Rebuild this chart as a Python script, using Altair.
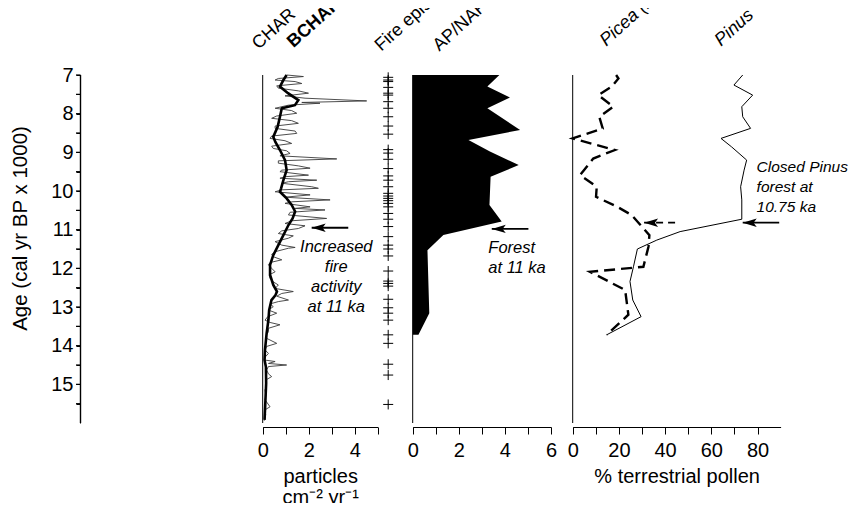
import altair as alt
import pandas as pd

# ---------------- data ----------------
char_age = [7.00, 7.04, 7.09, 7.13, 7.17, 7.22, 7.28, 7.34, 7.41, 7.47, 7.54, 7.60, 7.67, 7.71, 7.73,
            7.78, 7.86, 7.92, 7.99, 8.06, 8.12, 8.18, 8.25, 8.32, 8.38, 8.45, 8.51, 8.58, 8.64, 8.70,
            8.77, 8.84, 8.90, 8.96, 9.03, 9.09, 9.17, 9.22, 9.28, 9.35, 9.41, 9.46, 9.50, 9.59, 9.63,
            9.67, 9.72, 9.76, 9.80, 9.89, 9.93, 9.97, 10.02, 10.10, 10.16, 10.23, 10.28, 10.32, 10.41,
            10.45, 10.49, 10.55, 10.62, 10.71, 10.77, 10.84, 10.90, 10.97, 11.03, 11.10, 11.16, 11.22,
            11.31, 11.40, 11.46, 11.48, 11.57, 11.64, 11.70, 11.78, 11.85, 11.91, 12.00, 12.09, 12.17,
            12.26, 12.35, 12.43, 12.52, 12.60, 12.65, 12.72, 12.82, 12.86, 12.92, 12.99, 13.08, 13.16,
            13.25, 13.34, 13.40, 13.46, 13.55, 13.64, 13.72, 13.81, 13.94, 14.02, 14.11, 14.20, 14.28,
            14.37, 14.41, 14.46, 14.50, 14.54, 14.63, 14.73, 14.80, 14.89, 15.02, 15.15, 15.28, 15.40,
            15.58, 15.66, 15.79, 15.94]
char_val = [1.04, 1.77, 0.68, 0.54, 1.41, 1.70, 0.61, 0.68, 1.55, 1.99, 0.97, 1.84, 4.52, 1.70, 2.49,
            1.12, 0.54, 1.26, 1.48, 0.61, 0.39, 1.26, 1.55, 0.54, 0.54, 1.41, 1.48, 0.39, 0.32, 0.97,
            1.26, 0.39, 0.46, 1.04, 1.19, 0.75, 3.22, 0.68, 0.68, 1.55, 2.06, 0.83, 0.75, 1.99, 0.97,
            0.75, 2.35, 1.12, 0.83, 2.13, 2.42, 0.83, 0.54, 2.06, 0.97, 2.93, 1.26, 0.97, 2.06,
            1.41, 2.71, 1.19, 1.12, 2.78, 1.26, 0.97, 1.84, 1.55, 0.83, 0.68, 1.33, 1.12,
            0.54, 0.83, 1.41, 1.12, 0.54, 0.39, 0.46, 0.83, 0.32, 0.25, 0.39, 0.54, 0.28,
            0.32, 0.46, 0.68, 0.54, 1.33, 0.83, 0.61, 1.12, 0.68, 0.32, 0.46, 0.25, 0.61,
            0.22, 0.10, 0.32, 0.75, 0.25, 0.25, 0.17, 0.17, 0.61, 0.17, 0.10, 0.25, 0.13,
            0.07, 0.54, 0.25, 1.04, 0.25, 0.17, 0.25, 0.39, 0.13, 0.17, 0.10, 0.14, 0.10,
            0.32, 0.10, 0.13, 0.07]

bchar_age = [7.00, 7.13, 7.30, 7.47, 7.65, 7.78, 7.86, 8.08, 8.34, 8.60, 8.73, 8.94, 9.20, 9.46,
             9.72, 9.93, 10.02, 10.19, 10.36, 10.53, 10.71, 10.88, 11.14, 11.40, 11.66, 11.91,
             12.17, 12.43, 12.60, 12.70, 12.82, 13.08, 13.33, 13.68, 14.11, 14.37, 14.55, 14.97,
             15.40, 15.92]
bchar_val = [1.04, 0.90, 0.75, 1.10, 1.55, 1.40, 0.83, 0.75, 0.65, 0.46, 0.55, 0.75, 0.97, 1.04,
             0.90, 0.80, 0.75, 1.04, 1.26, 1.41, 1.30, 1.12, 0.90, 0.68, 0.46, 0.32,
             0.32, 0.46, 0.62, 0.55, 0.38, 0.28, 0.25, 0.17, 0.10, 0.08, 0.14, 0.15,
             0.12, 0.08]

fire_age = [7.06, 7.13, 7.17, 7.32, 7.47, 7.52, 7.69, 7.86, 8.08, 8.32, 8.53, 8.93, 9.02, 9.18,
            9.42, 9.61, 9.72, 9.89, 10.06, 10.13, 10.19, 10.25, 10.32, 10.41, 10.58, 10.73,
            10.92, 11.18, 11.40, 11.50, 11.68, 12.07, 12.33, 12.39, 12.46, 12.80, 13.02, 13.16,
            13.34, 13.72, 13.94, 14.48, 14.76, 15.52]

ap_age = [7.00, 7.30, 7.58, 7.86, 8.42, 8.68, 8.98, 9.33, 9.63, 10.36, 10.79, 11.14, 11.53,
          13.16, 13.72]
ap_val = [3.76, 3.24, 4.22, 3.24, 4.66, 2.42, 3.35, 4.60, 3.38, 3.33, 3.86, 1.33, 0.64,
          0.72, 0.25]

picea_age = [7.00, 7.09, 7.30, 7.52, 7.82, 8.08, 8.38, 8.64, 8.94, 9.16, 9.59, 9.89, 10.15,
             10.40, 10.62, 11.14, 11.44, 11.96, 12.09, 12.56, 13.20, 13.72]
picea_val = [18.8, 19.8, 16.9, 11.1, 17.6, 11.5, 13.0, 0.0, 18.3, 8.9, 3.2, 10.4, 10.1,
             19.0, 25.5, 33.2, 32.8, 30.6, 7.5, 22.7, 24.1, 14.7]

pinus_age = [7.00, 7.26, 7.52, 7.82, 8.08, 8.38, 8.64, 8.86, 9.20, 9.46, 9.89, 10.23, 10.73,
             11.05, 11.27, 11.50, 11.96, 12.34, 12.82, 13.25, 13.72]
pinus_val = [73.6, 69.8, 77.9, 73.2, 73.6, 77.0, 64.2, 68.8, 75.3, 74.2, 72.7, 73.2, 73.2,
             46.5, 36.4, 28.0, 26.3, 24.8, 26.0, 29.6, 14.7]

# annotations (in data units)
char_arrow = {"age": [10.95], "tip": [2.13], "tail": [3.72]}
ap_arrow = {"age": [10.98], "tip": [3.43], "tail": [5.02]}
picea_arrow = {"age": [10.82], "tip": [30.9], "tail": [46.0]}
pinus_arrow = {"age": [10.82], "tip": [73.6], "tail": [89.4]}

char_note = {"age": [11.59], "x": [3.2], "text": ["Increased\nfire\nactivity\nat 11 ka"]}
ap_note = {"age": [11.60], "x": [3.28], "text": ["Forest\nat 11 ka"]}
pol_note = {"age": [9.50], "x": [79.6], "text": ["Closed Pinus\nforest at\n10.75 ka"]}

lab_char = {"age": [6.353], "x": [-0.18], "text": ["CHAR"]}
lab_bchar = {"age": [6.309], "x": [1.34], "text": ["BCHAR"]}
lab_fire = {"age": [6.397], "x": [0.10], "text": ["Fire episodes"]}
lab_ap = {"age": [6.397], "x": [1.15], "text": ["AP/NAP"]}
lab_picea = {"age": [6.268], "x": [14.5], "text": ["Picea (2x)"]}
lab_pinus = {"age": [6.268], "x": [64.2], "text": ["Pinus"]}

base_line = {"x0": [0], "y0": [7], "y1": [16]}

y_ticks = [7, 7.5, 8, 8.5, 9, 9.5, 10, 10.5, 11, 11.5, 12, 12.5, 13, 13.5, 14, 14.5, 15, 15.5]
char_ticks = [0, 1, 2, 3, 4, 5]
ap_ticks = [0, 1, 2, 3, 4, 5, 6]
pol_ticks = [0, 10, 20, 30, 40, 50, 60, 70, 80]

# ---------------- layout ----------------
W, H = 701, 348
FONT = "Liberation Sans"
FS = 20
AGE_AXIS_X = -182.2 / 23.0
AGE_TICK_X = -186.7 / 23.0

YS = alt.Scale(domain=[7, 16], reverse=True, nice=False, zero=False)
YAX = alt.Axis(values=y_ticks,
               labelExpr="datum.value % 1 === 0 ? format(datum.value, 'd') : ''",
               title="Age (cal yr BP x 1000)", domain=True, ticks=True,
               domainColor="black", tickColor="black", domainWidth=1, tickWidth=1,
               tickSize=4, labelPadding=3,
               labelFontSize=FS, titleFontSize=20.5, titleFontWeight="normal",
               titleX=-60, titleY=153, titleAngle=270, titleAlign="center",
               titleBaseline="middle", labelColor="black", titleColor="black",
               grid=False, labelFont=FONT, titleFont=FONT)


def xaxis(values, every, title):
    kw = dict(orient="bottom", offset=4, values=values,
              labelExpr="datum.value %% %s === 0 ? datum.label : ''" % every,
              domain=True, ticks=True, domainWidth=1, tickWidth=1,
              tickSize=7, labelFontSize=FS, labelPadding=6, labelFlush=False,
              labelOverlap=False, domainColor="black", tickColor="black",
              labelColor="black", grid=False, labelFont=FONT)
    if title is not None:
        kw.update(title=title, titleFontSize=FS, titleFontWeight="normal",
                  titleBaseline="alphabetic", titleY=55, titleLineHeight=21,
                  titleColor="black", titleFont=FONT)
    else:
        kw.update(title=None)
    return alt.Axis(**kw)


def Y(field):
    return alt.Y(field, type="quantitative", scale=YS, axis=YAX)


ARROW = "M-1,0L1,-0.6L0.55,0L1,0.6Z"
PLUS = "M-1,0L1,0M0,-1L0,1"


def make_panel(sc, ax):
    def X(field):
        if ax is None:
            return alt.X(field, type="quantitative", scale=sc, axis=None)
        return alt.X(field, type="quantitative", scale=sc, axis=ax)

    def arrow(d, dash=None):
        df = pd.DataFrame(d)
        rule_kw = dict(color="black", strokeWidth=1.8)
        if dash is not None:
            rule_kw["strokeDash"] = dash
        shaft = alt.Chart(df).mark_rule(**rule_kw).encode(x=X("tip"), x2="tail:Q", y=Y("age"))
        head = alt.Chart(df).mark_point(shape=ARROW, filled=True, size=196, xOffset=7,
                                        color="black", opacity=1, strokeWidth=0).encode(
            x=X("tip"), y=Y("age"))
        return [shaft, head]

    def note(d, align, fs=16.5):
        return alt.Chart(pd.DataFrame(d)).mark_text(
            align=align, baseline="alphabetic", fontSize=fs, fontStyle="italic",
            lineBreak="\n", lineHeight=20, font=FONT, color="black").encode(
            x=X("x"), y=Y("age"), text="text:N")

    def toplabel(d, weight="normal", style="normal"):
        return alt.Chart(pd.DataFrame(d)).mark_text(
            align="left", baseline="alphabetic", angle=318, fontSize=18, fontWeight=weight,
            fontStyle=style, font=FONT, color="black").encode(
            x=X("x"), y=Y("age"), text="text:N")

    def baseline():
        return alt.Chart(pd.DataFrame(base_line)).mark_rule(color="black", strokeWidth=1).encode(
            x=X("x0"), y=Y("y0"), y2="y1:Q")

    return X, arrow, note, toplabel, baseline


# ---- CHAR panel (also carries the age axis line and its ticks) ----
char_sc = alt.Scale(domain=[0, 5], range=[182.7, 297.7], nice=False, zero=False)
char_ax = xaxis(char_ticks, 2, ["particles", "cm\u207b\u00b2 yr\u207b\u00b9"])
cX, c_arrow, c_note, c_label, c_base = make_panel(char_sc, char_ax)
char_df = pd.DataFrame({"age": char_age, "val": char_val})
bchar_df = pd.DataFrame({"age": bchar_age, "val": bchar_val})
char_line = alt.Chart(char_df).mark_line(color="#3a3a3a", strokeWidth=0.9).encode(
    x=cX("val"), y=Y("age"), order="age:Q")
bchar_line = alt.Chart(bchar_df).mark_line(color="black", strokeWidth=2.6).encode(
    x=cX("val"), y=Y("age"), order="age:Q")
age_axis_line = alt.Chart(pd.DataFrame(base_line)).mark_rule(color="black", strokeWidth=1.4).encode(
    x=alt.X(datum=AGE_AXIS_X, type="quantitative", scale=char_sc, axis=char_ax),
    y=Y("y0"), y2="y1:Q")
age_axis_ticks = alt.Chart(pd.DataFrame({"t": y_ticks})).mark_rule(
    color="black", strokeWidth=1.2).encode(
    x=alt.X(datum=AGE_TICK_X, type="quantitative", scale=char_sc, axis=char_ax),
    x2=alt.datum(AGE_AXIS_X), y=Y("t"))
char_group = alt.layer(char_line, c_base(), bchar_line, age_axis_line, age_axis_ticks,
                       *c_arrow(char_arrow),
                       c_note(char_note, "center"), c_label(lab_char),
                       c_label(lab_bchar, weight="bold"))

# ---- fire episodes ----
fire_sc = alt.Scale(domain=[0, 1], range=[297.7, 332.7], nice=False, zero=False)
fX, f_arrow, f_note, f_label, f_base = make_panel(fire_sc, None)
fire_df = pd.DataFrame({"age": fire_age})
fire_pts = alt.Chart(fire_df).mark_point(shape=PLUS, size=100, filled=False, color="black",
                                         strokeWidth=1, opacity=1).encode(
    x=alt.X(datum=0.3, type="quantitative", scale=fire_sc, axis=None), y=Y("age"))
fire_group = alt.layer(fire_pts, f_label(lab_fire))

# ---- AP/NAP ----
ap_sc = alt.Scale(domain=[0, 6], range=[332.7, 471.0], nice=False, zero=False)
ap_ax = xaxis(ap_ticks, 2, None)
aX, a_arrow, a_note, a_label, a_base = make_panel(ap_sc, ap_ax)
ap_df = pd.DataFrame({"age": ap_age, "val": ap_val})
ap_area = alt.Chart(ap_df).mark_area(orient="horizontal", color="black", opacity=1).encode(
    x=alt.X("val:Q", scale=ap_sc, axis=ap_ax, stack=None),
    x2=alt.datum(0), y=Y("age"))
ap_group = alt.layer(ap_area, a_base(), *a_arrow(ap_arrow),
                     a_note(ap_note, "left"), a_label(lab_ap))

# ---- pollen ----
pol_sc = alt.Scale(domain=[0, 90], range=[492.7, 700.6], nice=False, zero=False)
pol_ax = xaxis(pol_ticks, 20, "% terrestrial pollen")
pX, p_arrow, p_note, p_label, p_base = make_panel(pol_sc, pol_ax)
picea_df = pd.DataFrame({"age": picea_age, "val": picea_val})
pinus_df = pd.DataFrame({"age": pinus_age, "val": pinus_val})
picea_line = alt.Chart(picea_df).mark_line(color="black", strokeWidth=2.4,
                                           strokeDash=[11, 6]).encode(
    x=pX("val"), y=Y("age"), order="age:Q")
pinus_line = alt.Chart(pinus_df).mark_line(color="black", strokeWidth=1).encode(
    x=pX("val"), y=Y("age"), order="age:Q")
pol_group = alt.layer(picea_line, p_base(), pinus_line,
                      *p_arrow(picea_arrow, dash=[7, 5]),
                      *p_arrow(pinus_arrow),
                      p_note(pol_note, "left", fs=15.5),
                      p_label(lab_picea, style="italic"),
                      p_label(lab_pinus, style="italic"))

chart = alt.layer(char_group, fire_group, ap_group, pol_group).resolve_scale(
    x="independent").resolve_axis(x="independent").properties(
    width=W, height=H,
    autosize=alt.AutoSizeParams(type="none"),
    padding={"left": 72, "top": 67, "right": 68, "bottom": 80},
).configure(font=FONT).configure_view(strokeWidth=0)

chart.save("out.html", embed_options={"renderer": "svg", "actions": False})
